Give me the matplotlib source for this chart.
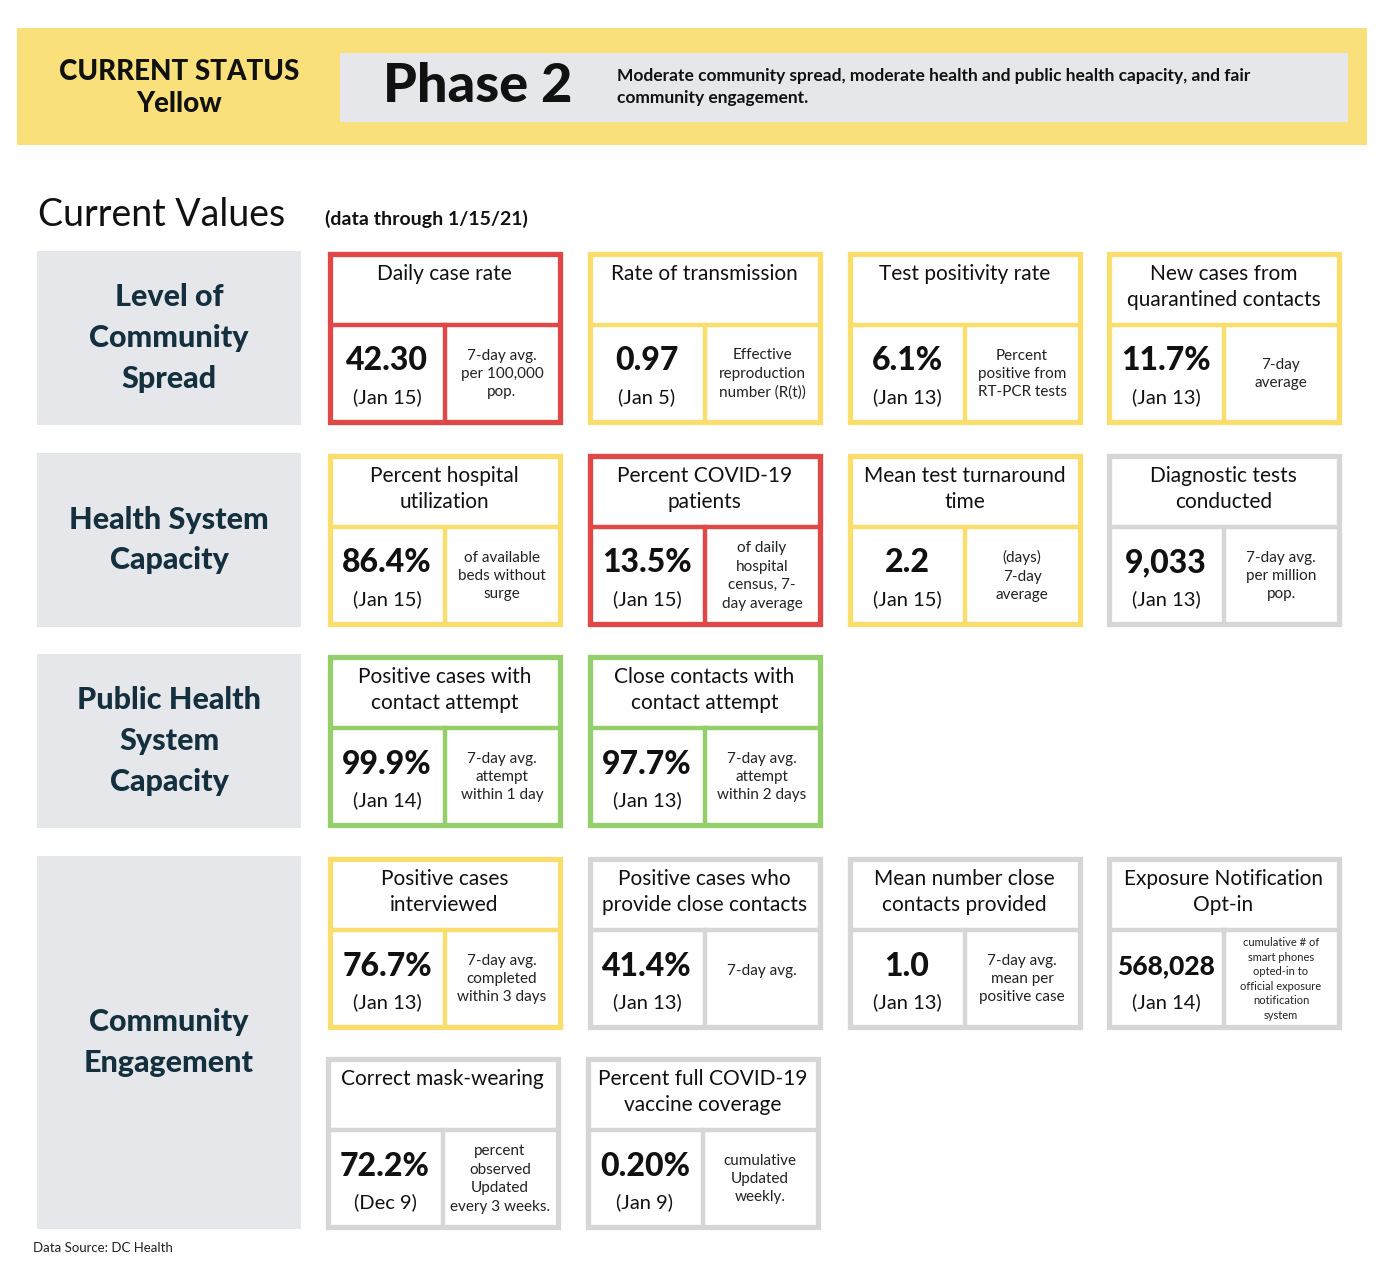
import matplotlib
matplotlib.use('Agg')
import matplotlib.pyplot as plt
from matplotlib.patches import Rectangle

plt.rcParams['font.family'] = ['Lato', 'DejaVu Sans']

# card data (row, col)
card_pos = [(0, 0), (0, 1), (0, 2), (0, 3),
            (1, 0), (1, 1), (1, 2), (1, 3),
            (2, 0), (2, 1),
            (3, 0), (3, 1), (3, 2), (3, 3),
            (4, 0), (4, 1)]
card_titles = ["Daily case rate", "Rate of transmission", "Test positivity rate",
               "New cases from\nquarantined contacts",
               "Percent hospital\nutilization", "Percent COVID-19\npatients",
               "Mean test turnaround\ntime", "Diagnostic tests\nconducted",
               "Positive cases with\ncontact attempt", "Close contacts with\ncontact attempt",
               "Positive cases\ninterviewed", "Positive cases who\nprovide close contacts",
               "Mean number close\ncontacts provided", "Exposure Notification\nOpt-in",
               "Correct mask-wearing", "Percent full COVID-19\nvaccine coverage"]
card_values = ["42.30", "0.97", "6.1%", "11.7%", "86.4%", "13.5%", "2.2", "9,033",
               "99.9%", "97.7%", "76.7%", "41.4%", "1.0", "568,028", "72.2%", "0.20%"]
card_dates = ["(Jan 15)", "(Jan 5)", "(Jan 13)", "(Jan 13)", "(Jan 15)", "(Jan 15)",
              "(Jan 15)", "(Jan 13)", "(Jan 14)", "(Jan 13)", "(Jan 13)", "(Jan 13)",
              "(Jan 13)", "(Jan 14)", "(Dec 9)", "(Jan 9)"]
card_descs = ["7-day avg.\nper 100,000\npop.", "Effective\nreproduction\nnumber (R(t))",
              "Percent\npositive from\nRT-PCR tests", "7-day\naverage",
              "of available\nbeds without\nsurge", "of daily\nhospital\ncensus, 7-\nday average",
              "(days)\n7-day\naverage", "7-day avg.\nper million\npop.",
              "7-day avg.\nattempt\nwithin 1 day", "7-day avg.\nattempt\nwithin 2 days",
              "7-day avg.\ncompleted\nwithin 3 days", "7-day avg.",
              "7-day avg.\nmean per\npositive case",
              "cumulative # of\nsmart phones\nopted-in to\nofficial exposure\nnotification\nsystem",
              "percent\nobserved\nUpdated\nevery 3 weeks.", "cumulative\nUpdated\nweekly."]
card_status = ["red", "yellow", "yellow", "yellow", "yellow", "red", "yellow", "grey",
               "green", "green", "yellow", "grey", "grey", "grey", "grey", "grey"]

row_labels = ["Level of\nCommunity\nSpread", "Health System\nCapacity",
              "Public Health\nSystem\nCapacity", "Community\nEngagement"]

colors = {"red": "#E04848", "yellow": "#F9DE6E", "green": "#95CF6B", "grey": "#D6D6D6"}
ink = "#111111"
navy = "#14303F"

col_x = [327, 587, 847, 1106]
row_y = [251, 453, 654, 856, 1056]
cw, ch = 235, 173

fig = plt.figure(figsize=(13.9, 12.66), dpi=100)
ax = fig.add_axes([0, 0, 1, 1])
ax.set_xlim(0, 1390)
ax.set_ylim(1266, 0)
ax.axis('off')

# header
ax.add_patch(Rectangle((17, 28), 1350, 117, color="#F9E07A", lw=0))
ax.add_patch(Rectangle((340, 53), 1008, 69, color="#E6E7EB", lw=0))
ax.text(179, 88, "CURRENT STATUS\nYellow", ha='center', va='center', fontsize=20,
        fontweight='black', color=ink, linespacing=1.25)
ax.text(478, 86, "Phase 2", ha='center', va='center', fontsize=39, fontweight='black', color=ink)
ax.text(617, 87, "Moderate community spread, moderate health and public health capacity, and fair\ncommunity engagement.",
        ha='left', va='center', fontsize=12.5, fontweight='bold', color=ink, linespacing=1.5)

ax.text(38, 215, "Current Values", ha='left', va='center', fontsize=27, color=ink)
ax.text(325, 219, "(data through 1/15/21)", ha='left', va='center', fontsize=14,
        fontweight='bold', color=ink)

# row label boxes
label_spans = [(251, 425), (453, 627), (654, 828), (856, 1229)]
for lab, (y0, y1) in zip(row_labels, label_spans):
    ax.add_patch(Rectangle((37, y0), 264, y1 - y0, color="#E6E7EB", lw=0))
    ax.text(169, (y0 + y1) / 2, lab, ha='center', va='center', fontsize=22,
            fontweight='black', color=navy, linespacing=1.55)

# cards
for (r, c), t, v, d, desc, st in zip(card_pos, card_titles, card_values, card_dates,
                                     card_descs, card_status):
    x0 = col_x[c] - (2 if r == 4 else 0)
    y0 = row_y[r]
    col = colors[st]
    ax.add_patch(Rectangle((x0 + 2.5, y0 + 2.5), cw - 5, ch - 5, fill=False, ec=col, lw=3.8))
    ax.plot([x0 + 6, x0 + cw - 6], [y0 + 74, y0 + 74], color=col, lw=3.2)
    ax.plot([x0 + 118, x0 + 118], [y0 + 74, y0 + ch - 4], color=col, lw=3.2)
    ax.text(x0 + cw / 2, y0 + 13, t, ha='center', va='top', fontsize=15, color=ink,
            linespacing=1.35)
    vs = 23 if len(v) < 7 else 19
    ax.text(x0 + 60, y0 + 110, v, ha='center', va='center', fontsize=vs, fontweight='black', color=ink)
    ax.text(x0 + 60, y0 + 146, d, ha='center', va='center', fontsize=14.5, color=ink)
    ds = 8 if st == "grey" and r == 3 and c == 3 else 11
    ax.text(x0 + 175, y0 + 123 if desc != "7-day avg." else y0 + 115, desc, ha='center',
            va='center', fontsize=ds, color="#222222", linespacing=1.4)

ax.text(33, 1248, "Data Source: DC Health", ha='left', va='center', fontsize=9.5, color="#222222")

fig.savefig("out.png", dpi=100, facecolor='white')
